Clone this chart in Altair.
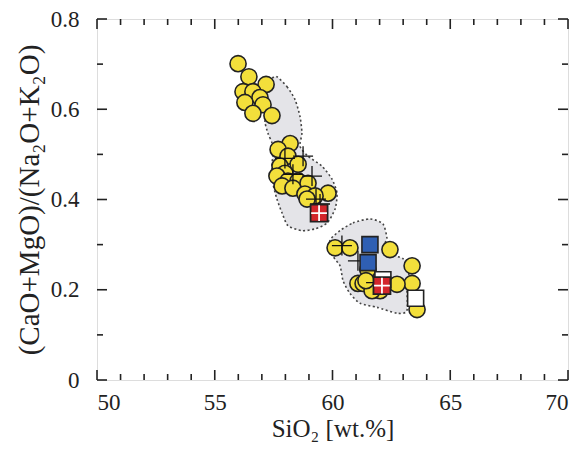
import altair as alt
import pandas as pd

# ---- data ----
circ_x = [55.99, 56.45, 57.18, 56.20, 56.62, 56.92, 56.28, 57.05, 56.62, 57.43,
          58.20, 57.69, 58.11, 58.54, 57.77, 57.98, 57.64, 58.11, 58.54, 58.96,
          57.86, 58.32, 59.81, 58.83, 59.26, 58.92,
          60.11, 60.74, 62.44, 63.38, 63.38, 63.59, 62.74, 61.50, 61.08, 61.30,
          61.59, 62.02, 61.68, 61.42]
circ_y = [0.701, 0.672, 0.655, 0.639, 0.639, 0.626, 0.615, 0.610, 0.591, 0.586,
          0.524, 0.511, 0.496, 0.478, 0.474, 0.458, 0.452, 0.441, 0.441, 0.436,
          0.430, 0.425, 0.414, 0.412, 0.408, 0.401,
          0.293, 0.293, 0.289, 0.253, 0.214, 0.156, 0.212, 0.245, 0.214, 0.214,
          0.214, 0.198, 0.198, 0.220]

cross_x = [58.75, 57.98, 59.13, 58.32, 59.30, 59.47, 60.40, 61.08, 61.85]
cross_y = [0.496, 0.491, 0.452, 0.456, 0.401, 0.390, 0.298, 0.264, 0.216]

red_x = [59.43, 62.10]
red_y = [0.370, 0.209]

blue_x = [61.59, 61.51]
blue_y = [0.300, 0.260]

white_x = [62.14, 63.53]
white_y = [0.222, 0.181]

polyA_x = [57.64, 58.07, 58.41, 58.62, 58.70, 58.62, 58.96, 59.55, 59.98, 60.19,
           60.11, 59.77, 59.26, 58.70, 58.11, 57.86, 57.64, 57.47, 57.43, 57.47,
           57.43, 57.26, 57.13, 57.13, 57.26, 57.43]
polyA_y = [0.672, 0.650, 0.621, 0.584, 0.547, 0.518, 0.496, 0.474, 0.445, 0.414,
           0.379, 0.348, 0.335, 0.331, 0.342, 0.370, 0.401, 0.436, 0.474, 0.502,
           0.525, 0.547, 0.573, 0.617, 0.650, 0.668]
polyB_x = [60.32, 60.87, 61.59, 62.14, 62.31, 62.23, 62.44, 62.99, 63.29, 63.16,
           63.16, 62.74, 61.89, 61.17, 60.74, 60.45, 60.32, 60.02, 59.89]
polyB_y = [0.331, 0.348, 0.357, 0.346, 0.315, 0.302, 0.280, 0.269, 0.249, 0.214,
           0.154, 0.148, 0.161, 0.170, 0.192, 0.220, 0.253, 0.275, 0.309]

x_major = [50, 55, 60, 65, 70]
x_minor = [v for v in range(51, 70) if v % 5 != 0]
y_major = [0, 0.2, 0.4, 0.6, 0.8]
y_minor = [0.1, 0.3, 0.5, 0.7]

W, H = 471, 361
FONT = "Liberation Serif"

# ---- tables ----
rows = []
for name, xs_, ys_ in (("A", polyA_x, polyA_y), ("B", polyB_x, polyB_y)):
    for i, (a, b) in enumerate(zip(xs_, ys_)):
        rows.append({"poly": name, "i": i, "x": a, "y": b})
poly_df = pd.DataFrame(rows)
circ_df = pd.DataFrame({"x": circ_x, "y": circ_y})
cross_df = pd.DataFrame({"x": cross_x, "y": cross_y})
red_df = pd.DataFrame({"x": red_x, "y": red_y})
blue_df = pd.DataFrame({"x": blue_x, "y": blue_y})
white_df = pd.DataFrame({"x": white_x, "y": white_y})

xs = alt.Scale(domain=[50, 70], nice=False)
ys = alt.Scale(domain=[0, 0.8], nice=False)

X = alt.X("x:Q", scale=xs, axis=alt.Axis(
    values=x_major, title="SiO₂ [wt.%]", ticks=False, grid=False, domain=False,
    labelFont=FONT, labelFontSize=23, labelColor="#222", labelPadding=11,
    titleFont=FONT, titleFontSize=25, titleFontWeight="normal", titleColor="#222",
    titlePadding=2))
Y = alt.Y("y:Q", scale=ys, axis=alt.Axis(
    values=y_major, title="(CaO+MgO)/(Na₂O+K₂O)", ticks=False, grid=False, domain=False,
    labelExpr="datum.value == 0 ? '0' : format(datum.value, '.1f')",
    labelFont=FONT, labelFontSize=23, labelColor="#222", labelPadding=18,
    titleFont=FONT, titleFontSize=29, titleFontWeight="normal", titleColor="#222",
    titlePadding=6))

polys = alt.Chart(poly_df).mark_line(
    fill="#e4e4e8", stroke="#444", strokeWidth=1.6, strokeDash=[2, 2.5],
    interpolate="cardinal-closed", tension=0.3
).encode(x=X, y=Y, detail="poly:N", order="i:Q")

circles = alt.Chart(circ_df).mark_point(
    shape="circle", filled=True, fill="#f3df3b", stroke="#222", strokeWidth=1.6, size=260, opacity=1
).encode(x=alt.X("x:Q", scale=xs), y=alt.Y("y:Q", scale=ys))

crosses = alt.Chart(cross_df).mark_point(
    shape="M-1,0H1M0,-1V1", filled=False, stroke="#111", strokeWidth=1.3, size=400, opacity=1
).encode(x=alt.X("x:Q", scale=xs), y=alt.Y("y:Q", scale=ys))

whites = alt.Chart(white_df).mark_point(
    shape="square", filled=True, fill="white", stroke="#222", strokeWidth=1.6, size=256, opacity=1
).encode(x=alt.X("x:Q", scale=xs), y=alt.Y("y:Q", scale=ys))

blues = alt.Chart(blue_df).mark_point(
    shape="square", filled=True, fill="#2f5fb3", stroke="#222", strokeWidth=1.6, size=256, opacity=1
).encode(x=alt.X("x:Q", scale=xs), y=alt.Y("y:Q", scale=ys))

reds = alt.Chart(red_df).mark_point(
    shape="square", filled=True, fill="#d3262b", stroke="#222", strokeWidth=1.8, size=289, opacity=1
).encode(x=alt.X("x:Q", scale=xs), y=alt.Y("y:Q", scale=ys))

red_grid = alt.Chart(red_df).mark_point(
    shape="M-1,0H1M0,-1V1", filled=False, stroke="white", strokeWidth=1.8, size=250, opacity=1
).encode(x=alt.X("x:Q", scale=xs), y=alt.Y("y:Q", scale=ys))

# inward ticks on all four sides
def vticks(vals, length):
    d = pd.DataFrame({"t": vals})
    bottom = alt.Chart(d).mark_rule(color="#222", strokeWidth=1.6).encode(
        x=alt.X("t:Q", scale=xs), y=alt.value(H), y2=alt.value(H - length))
    top = alt.Chart(d).mark_rule(color="#222", strokeWidth=1.6).encode(
        x=alt.X("t:Q", scale=xs), y=alt.value(0), y2=alt.value(length))
    return bottom + top

def hticks(vals, length):
    d = pd.DataFrame({"t": vals})
    left = alt.Chart(d).mark_rule(color="#222", strokeWidth=1.6).encode(
        y=alt.Y("t:Q", scale=ys), x=alt.value(0), x2=alt.value(length))
    right = alt.Chart(d).mark_rule(color="#222", strokeWidth=1.6).encode(
        y=alt.Y("t:Q", scale=ys), x=alt.value(W), x2=alt.value(W - length))
    return left + right

ticks = vticks(x_major, 10) + vticks(x_minor, 6) + hticks(y_major, 10) + hticks(y_minor, 6)

chart = alt.layer(
    polys, circles, crosses, whites, blues, reds, red_grid, ticks
).properties(
    width=W, height=H,
    autosize=alt.AutoSizeParams(type="none"),
    padding={"left": 89, "top": 11, "right": 12, "bottom": 62},
).configure_view(
    stroke="#222", strokeWidth=2
).configure(background="white")

chart.save("out.html", embed_options={"renderer": "svg", "actions": False})
